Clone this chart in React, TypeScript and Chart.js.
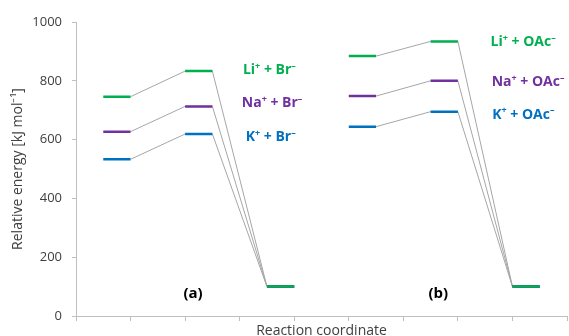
import React, { useEffect, useRef } from "react";
import { Chart, registerables } from "chart.js";

Chart.register(...registerables);

// Energy levels (kJ/mol) for each stage: reactant, transition, product
const stageNames = ["start", "complex", "product"];
const liBr = [746, 833, 100];
const naBr = [627, 713, 100];
const kBr = [533, 619, 100];
const liOAc = [884, 934, 100];
const naOAc = [748, 800, 100];
const kOAc = [644, 695, 100];

// category slots along the reaction coordinate (0..18), ticks every 2 slots
const slotCount = 19;
const panelStart = [1, 10]; // first slot of each panel
const stageSpacing = 3; // slots between level starts
const levelWidth = 1; // slots per level

const yTicks = [0, 200, 400, 600, 800, 1000];

const seriesColors = { li: "#00b050", na: "#7030a0", k: "#0070c0" };

// text annotations, anchored in data units [slot, energy]
const labelTexts = [
  "Li^+^ + Br^–^",
  "Na^+^ + Br^–^",
  "K^+^ + Br^–^",
  "Li^+^ + OAc^–^",
  "Na^+^ + OAc^–^",
  "K^+^ + OAc^–^",
];
const labelSlots = [6.12, 6.08, 6.22, 15.2, 15.24, 15.26];
const labelEnergies = [836, 724, 609, 932, 796, 684];
const labelColorKeys = ["li", "na", "k", "li", "na", "k"];
const panelTags = ["(a)", "(b)"];
const panelTagSlots = [4.29, 13.28];
const panelTagEnergy = 76;

function levelPoints(levels: number[], panel: number) {
  const pts: { x: number; y: number | null }[] = [];
  levels.forEach((v, s) => {
    const x0 = panelStart[panel] + s * stageSpacing;
    pts.push({ x: x0, y: v });
    pts.push({ x: x0 + levelWidth, y: v });
    pts.push({ x: x0 + levelWidth + 0.5, y: null });
  });
  return pts;
}

function connectorPoints(levels: number[], panel: number) {
  const pts: { x: number; y: number | null }[] = [];
  for (let s = 0; s < levels.length - 1; s++) {
    const x0 = panelStart[panel] + s * stageSpacing;
    pts.push({ x: x0 + levelWidth, y: levels[s] });
    pts.push({ x: x0 + stageSpacing, y: levels[s + 1] });
  }
  return pts;
}

const textPlugin = {
  id: "levelText",
  afterDatasetsDraw(chart: any) {
    const { ctx, scales } = chart;
    const xs = scales.x;
    const ys = scales.y;
    const font = "bold 14px 'Open Sans', sans-serif";
    const supFont = "bold 9px 'Open Sans', sans-serif";
    ctx.save();
    ctx.textBaseline = "middle";
    labelTexts.forEach((txt, i) => {
      let x = xs.getPixelForValue(labelSlots[i]);
      const y = ys.getPixelForValue(labelEnergies[i]);
      ctx.fillStyle = (seriesColors as any)[labelColorKeys[i]];
      ctx.textAlign = "left";
      txt.split("^").forEach((part, j) => {
        if (!part) return;
        const sup = j % 2 === 1;
        ctx.font = sup ? supFont : font;
        ctx.fillText(part, x, sup ? y - 4 : y);
        x += ctx.measureText(part).width;
      });
    });
    ctx.fillStyle = "#000000";
    ctx.textAlign = "center";
    ctx.font = "bold 15px 'Open Sans', sans-serif";
    panelTags.forEach((t, i) => {
      ctx.fillText(
        t,
        xs.getPixelForValue(panelTagSlots[i]),
        ys.getPixelForValue(panelTagEnergy)
      );
    });
    ctx.restore();
  },
};

export default function App() {
  const ref = useRef<HTMLCanvasElement>(null);
  useEffect(() => {
    document.body.style.margin = "0";
    const datasets: any[] = [];
    const groups = [
      { key: "li", sets: [liBr, liOAc] },
      { key: "na", sets: [naBr, naOAc] },
      { key: "k", sets: [kBr, kOAc] },
    ];
    groups.forEach((g) => {
      const pts: any[] = [];
      g.sets.forEach((lv, p) => pts.push(...levelPoints(lv, p)));
      datasets.push({
        label: g.key,
        data: pts,
        borderColor: (seriesColors as any)[g.key],
        borderWidth: 2.5,
        pointRadius: 0,
        spanGaps: false,
        borderCapStyle: "butt",
      });
    });
    groups.forEach((g) => {
      const pts: any[] = [];
      g.sets.forEach((lv, p) => {
        pts.push(...connectorPoints(lv, p));
        pts.push({ x: panelStart[p] + 8.5, y: null });
      });
      datasets.push({
        label: g.key + "-link",
        data: pts,
        borderColor: "#a6a6a6",
        borderWidth: 1,
        pointRadius: 0,
        spanGaps: false,
      });
    });

    const chart = new Chart(ref.current!, {
      type: "line",
      data: { datasets },
      plugins: [textPlugin],
      options: {
        animation: false,
        responsive: false,
        layout: { padding: { top: 22, right: 2, left: 0, bottom: 0 } },
        plugins: { legend: { display: false }, tooltip: { enabled: false } },
        scales: {
          x: {
            type: "linear",
            min: 0,
            max: slotCount - 1,
            afterFit: (scale: any) => {
              scale.height = 20;
            },
            ticks: { stepSize: 2, display: false },
            grid: {
              drawOnChartArea: false,
              drawTicks: true,
              tickLength: 5,
              color: "#bfbfbf",
            },
            border: { color: "#bfbfbf" },
            title: {
              display: true,
              text: "Reaction coordinate",
              color: "#404040",
              font: { family: "'Open Sans', sans-serif", size: 14 },
              padding: { top: 0, bottom: -3 },
            },
          },
          y: {
            min: 0,
            max: 1000,
            afterFit: (scale: any) => {
              scale.width = 76;
            },
            afterBuildTicks: (scale: any) => {
              scale.ticks = yTicks.map((v) => ({ value: v }));
            },
            ticks: {
              color: "#404040",
              font: { family: "'Open Sans', sans-serif", size: 13 },
              padding: 10,
              callback: (v: any) => String(v),
            },
            grid: {
              drawOnChartArea: false,
              drawTicks: true,
              tickLength: 4,
              color: "#bfbfbf",
            },
            border: { color: "#bfbfbf" },
            title: {
              display: true,
              text: "Relative energy [kJ mol⁻¹]",
              color: "#404040",
              font: { family: "'Open Sans', sans-serif", size: 14 },
              padding: { top: 10, bottom: 4 },
            },
          },
        },
      },
    });
    return () => chart.destroy();
  }, []);
  return (
    <div style={{ width: 569, height: 336 }}>
      <canvas ref={ref} width={569} height={336} style={{ display: "block" }} />
    </div>
  );
}
